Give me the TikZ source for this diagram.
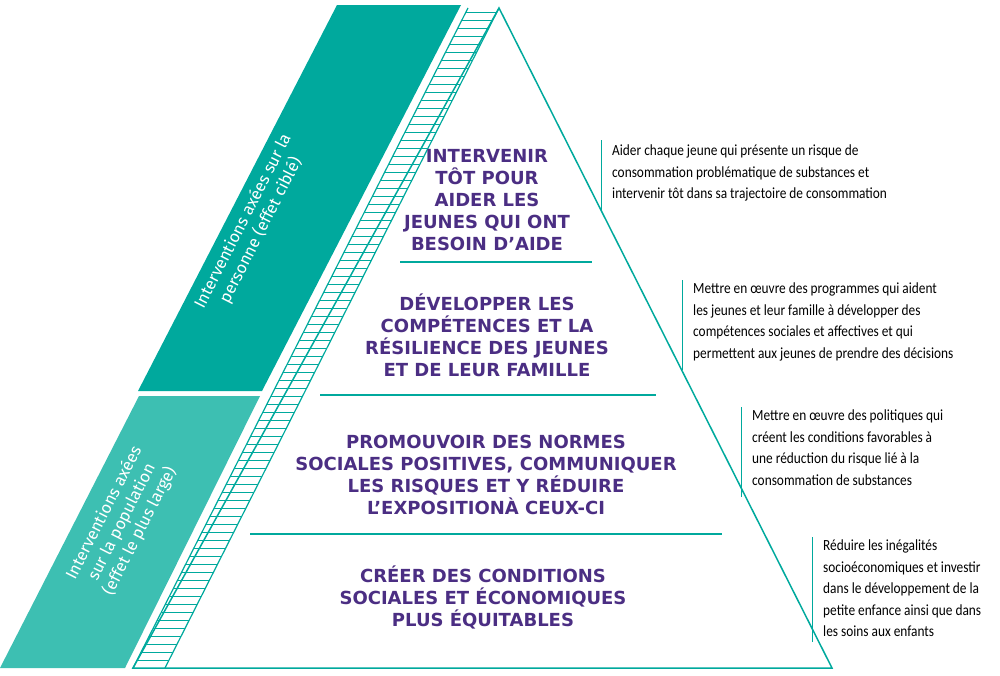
\documentclass[tikz,border=0pt]{standalone}
\usepackage{fontspec}
\setmainfont[FakeStretch=0.86]{Carlito}
\newfontfamily\headfont{DejaVu Sans}
\newfontfamily\bandfont{Fira Sans}
\usetikzlibrary{positioning}
\definecolor{tealdark}{HTML}{00A99D}
\definecolor{teallight}{HTML}{3DBFB2}
\definecolor{purpletxt}{HTML}{4B2E83}
\tikzset{
  level/.style={font=\headfont\bfseries\fontsize{18}{22}\selectfont, text=purpletxt, align=center},
  note/.style={font=\fontsize{15.5}{21.5}\selectfont, align=left, anchor=north west, inner sep=0pt},
  notebar/.style={draw=tealdark, line width=1pt},
  divider/.style={draw=tealdark, line width=1.2pt},
  bandtext/.style={font=\bandfont\fontsize{16.5}{20}\selectfont, text=white, align=center, rotate=63}
}
\begin{document}
\begin{tikzpicture}[x=1pt,y=-1pt]
\useasboundingbox (0,0) rectangle (1000,675);
% bands on the left
\fill[tealdark] (337,5) -- (461,5) -- (262,391) -- (138,391) -- cycle;
\fill[teallight] (139,396) -- (260,396) -- (125,668) -- (0,668) -- cycle;
\node[bandtext] (perso) at (252,226) {Interventions axées sur la\\personne (effet ciblé)};
\node[bandtext] (popu) at (122,522) {Interventions axées\\sur la population\\(effet le plus large)};
% hatched strip
\begin{scope}
  \clip (468,8) -- (499,8) -- (165,668) -- (133,668) -- cycle;
  \foreach \y in {12,20,...,668}
    \draw[tealdark, line width=1pt] (120,\y) -- (520,\y);
\end{scope}
\draw[tealdark, line width=1.2pt] (468,8) -- (133,668);
% triangle
\draw[tealdark, line width=1.5pt] (499,8) -- (832,668) -- (133,668) -- cycle;
\draw[tealdark, line width=1.2pt] (499,8) -- (165,668);
% dividers
\draw[divider] (400,262) -- (592,262);
\draw[divider] (320,395) -- (656,395);
\draw[divider] (250,534) -- (722,534);
% levels
\node[level] (lvl1) at (487,200) {INTERVENIR\\TÔT POUR\\AIDER LES\\JEUNES QUI ONT\\BESOIN D’AIDE};
\node[level] (lvl2) at (487,335) {DÉVELOPPER LES\\COMPÉTENCES ET LA\\RÉSILIENCE DES JEUNES\\ET DE LEUR FAMILLE};
\node[level] (lvl3) at (486,475) {PROMOUVOIR DES NORMES\\SOCIALES POSITIVES, COMMUNIQUER\\LES RISQUES ET Y RÉDUIRE\\L’EXPOSITIONÀ CEUX-CI};
\node[level] (lvl4) at (483,597) {CRÉER DES CONDITIONS\\SOCIALES ET ÉCONOMIQUES\\PLUS ÉQUITABLES};
% notes
\node[note] (n1) at (612,145) {Aider chaque jeune qui présente un risque de\\consommation problématique de substances et\\intervenir tôt dans sa trajectoire de consommation};
\draw[notebar] (601,140) -- (601,211);
\node[note] (n2) at (693,283) {Mettre en œuvre des programmes qui aident\\les jeunes et leur famille à développer des\\compétences sociales et affectives et qui\\permettent aux jeunes de prendre des décisions};
\draw[notebar] (682,280) -- (682,370);
\node[note] (n3) at (752,410) {Mettre en œuvre des politiques qui\\créent les conditions favorables à\\une réduction du risque lié à la\\consommation de substances};
\draw[notebar] (741,407) -- (741,497);
\node[note] (n4) at (823,540) {Réduire les inégalités\\socioéconomiques et investir\\dans le développement de la\\petite enfance ainsi que dans\\les soins aux enfants};
\draw[notebar] (812,537) -- (812,642);
\end{tikzpicture}
\end{document}
